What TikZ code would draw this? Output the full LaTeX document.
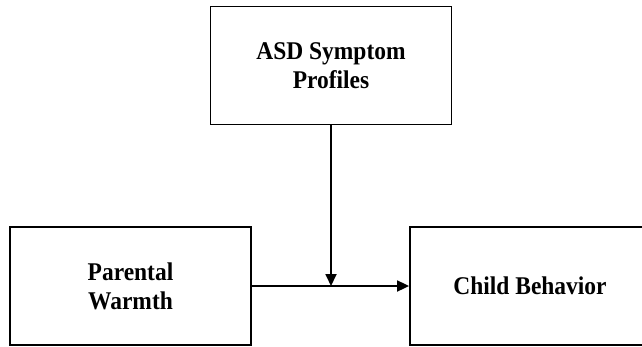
\documentclass[tikz,border=0pt]{standalone}
\usepackage{fontspec}
\setmainfont{Liberation Serif}
\newfontfamily\boxfont[FakeStretch=0.92]{Liberation Serif}
\usepackage{tikz}
\usetikzlibrary{positioning}
\usetikzlibrary{arrows.meta}
\tikzset{
  varbox/.style={draw, line width=1.8bp, rectangle, align=center, inner sep=0pt,
    minimum width=241bp, minimum height=118bp,
    font=\boxfont\fontsize{25.5bp}{29bp}\selectfont\bfseries},
  link/.style={line width=1.8bp, -{Triangle[length=12bp,width=11bp]}}
}

\begin{document}
\begin{tikzpicture}[x=1bp, y=1bp]
\useasboundingbox (0,0) rectangle (642,346);
% -- variables --
\node[varbox] (asd) at (331,280.5) {ASD Symptom\\Profiles};
\node[varbox] (warmth) at (130.5,60) {Parental\\Warmth};
\node[varbox, minimum width=240bp] (child) at (530,60) {Child Behavior};
% -- paths --
\draw[link] (warmth.east) to (child.west);
\coordinate (meet) at (asd.south |- warmth.east);
\draw[link] (asd.south) to (meet);
\end{tikzpicture}
\end{document}
